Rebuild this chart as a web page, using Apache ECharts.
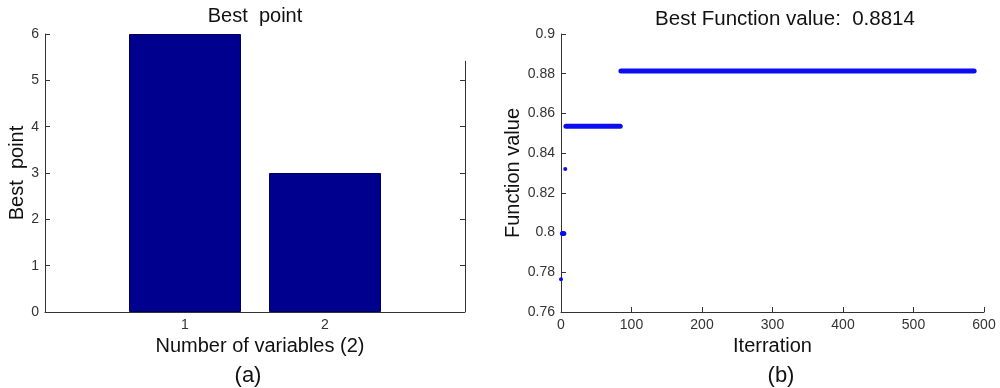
<!DOCTYPE html>
<html>
<head>
<meta charset="utf-8">
<script src="https://cdn.jsdelivr.net/npm/echarts@6/dist/echarts.min.js"></script>
<style>
html,body{margin:0;padding:0;background:#fff;}
#c{width:1000px;height:388px;}
</style>
</head>
<body>
<div id="c"></div>
<script>
// ---- Data: panel (a) ----
const barCategories = [1, 2];
const barValues = [6, 3];
const barYTicks = [0, 1, 2, 3, 4, 5, 6];

// ---- Data: panel (b) step runs of best function value ----
const runStartIter = [0, 2, 6, 7, 85];
const runEndIter   = [0, 4, 6, 84, 586];
const runValue     = [0.7765, 0.7995, 0.832, 0.8535, 0.8814];
const iterTicks = [0, 100, 200, 300, 400, 500, 600];
const fnTicks = [0.76, 0.78, 0.8, 0.82, 0.84, 0.86, 0.88, 0.9];

const bigFont = "'Liberation Sans', Arial, sans-serif";
const tickFont = "'Liberation Sans Narrow', 'Liberation Sans', Arial, sans-serif";
const axisCol = '#333';
const blue = '#0c0cf2';

const chart = echarts.init(document.getElementById('c'), null, {renderer: 'canvas'});

const stepSeries = runValue.map((v, i) => {
  const single = runStartIter[i] === runEndIter[i];
  return {
    type: 'line',
    xAxisIndex: 1, yAxisIndex: 2,
    data: single ? [[runStartIter[i], v]] : [[runStartIter[i], v], [runEndIter[i], v]],
    symbol: single ? 'circle' : 'none',
    showSymbol: single,
    symbolSize: 4,
    itemStyle: {color: blue},
    lineStyle: {color: blue, width: 5, cap: 'round'},
    silent: true,
    z: 3
  };
});

const option = {
  animation: false,
  backgroundColor: '#fff',
  title: [
    {text: 'Best  point', left: 250, top: 1, textAlign: 'center',
     textStyle: {fontFamily: bigFont, fontSize: 20, fontWeight: 'normal', color: '#111'}},
    {text: 'Best Function value:  0.8814', left: 780, top: 4, textAlign: 'center',
     textStyle: {fontFamily: bigFont, fontSize: 20.5, fontWeight: 'normal', color: '#111'}},
    {text: '(a)', left: 243, top: 360, textAlign: 'center',
     textStyle: {fontFamily: bigFont, fontSize: 22, fontWeight: 'normal', color: '#111'}},
    {text: '(b)', left: 776, top: 360, textAlign: 'center',
     textStyle: {fontFamily: bigFont, fontSize: 22, fontWeight: 'normal', color: '#111'}}
  ],
  grid: [
    {left: 45, right: 535, top: 34, bottom: 76},
    {left: 561, right: 16, top: 34, bottom: 76}
  ],
  xAxis: [
    {
      type: 'value', gridIndex: 0, min: 0, max: 3, interval: 1,
      name: 'Number of variables (2)', nameLocation: 'middle', nameGap: 22,
      nameTextStyle: {fontFamily: bigFont, fontSize: 20, color: '#111', padding: [0, 0, 0, 10]},
      axisLine: {lineStyle: {color: axisCol, width: 1}},
      axisTick: {show: false},
      splitLine: {show: false},
      axisLabel: {fontFamily: tickFont, fontSize: 14, color: '#333', margin: 6,
        formatter: v => barCategories.indexOf(v) >= 0 ? String(v) : ''}
    },
    {
      type: 'value', gridIndex: 1, min: 0, max: 600, interval: 100,
      name: 'Iterration', nameLocation: 'middle', nameGap: 24,
      nameTextStyle: {fontFamily: bigFont, fontSize: 20, color: '#111'},
      axisLine: {lineStyle: {color: axisCol, width: 1}},
      axisTick: {inside: true, length: 5, lineStyle: {color: axisCol}},
      splitLine: {show: false},
      axisLabel: {fontFamily: tickFont, fontSize: 14, color: '#333', margin: 6}
    }
  ],
  yAxis: [
    {
      type: 'value', gridIndex: 0, min: 0, max: 6, interval: 1,
      name: 'Best  point', nameLocation: 'middle', nameGap: 18,
      nameTextStyle: {fontFamily: bigFont, fontSize: 20, color: '#111'},
      axisLine: {show: true, lineStyle: {color: axisCol, width: 1}},
      axisTick: {show: true, inside: true, length: 5, lineStyle: {color: axisCol}},
      splitLine: {show: false},
      axisLabel: {fontFamily: tickFont, fontSize: 14, color: '#333', margin: 6}
    },
    {
      type: 'value', gridIndex: 0, position: 'right', min: 0, max: 6, interval: 1,
      axisLine: {show: false},
      axisTick: {show: true, inside: true, length: 5, lineStyle: {color: axisCol},
        customValues: [1, 2, 3, 4, 5]},
      axisLabel: {show: false},
      splitLine: {show: false}
    },
    {
      type: 'value', gridIndex: 1, min: 0.76, max: 0.9, interval: 0.02,
      name: 'Function value', nameLocation: 'middle', nameGap: 36,
      nameTextStyle: {fontFamily: bigFont, fontSize: 20, color: '#111'},
      axisLine: {show: true, lineStyle: {color: axisCol, width: 1}},
      axisTick: {show: true, inside: true, length: 5, lineStyle: {color: axisCol}},
      splitLine: {show: false},
      axisLabel: {fontFamily: tickFont, fontSize: 14, color: '#333', margin: 6,
        formatter: v => String(Math.round(v * 100) / 100)}
    }
  ],
  series: [
    {
      type: 'bar', xAxisIndex: 0, yAxisIndex: 0,
      data: barCategories.map((c, i) => [c, barValues[i]]),
      barWidth: '80%',
      itemStyle: {color: '#00008f', borderColor: '#00005a', borderWidth: 1},
      silent: true,
      markLine: {
        silent: true, symbol: 'none', label: {show: false},
        lineStyle: {color: axisCol, width: 1, type: 'solid'},
        data: [[{coord: [3, 0]}, {coord: [3, 5.42]}]]
      }
    }
  ].concat(stepSeries)
};
chart.setOption(option);
</script>
</body>
</html>
